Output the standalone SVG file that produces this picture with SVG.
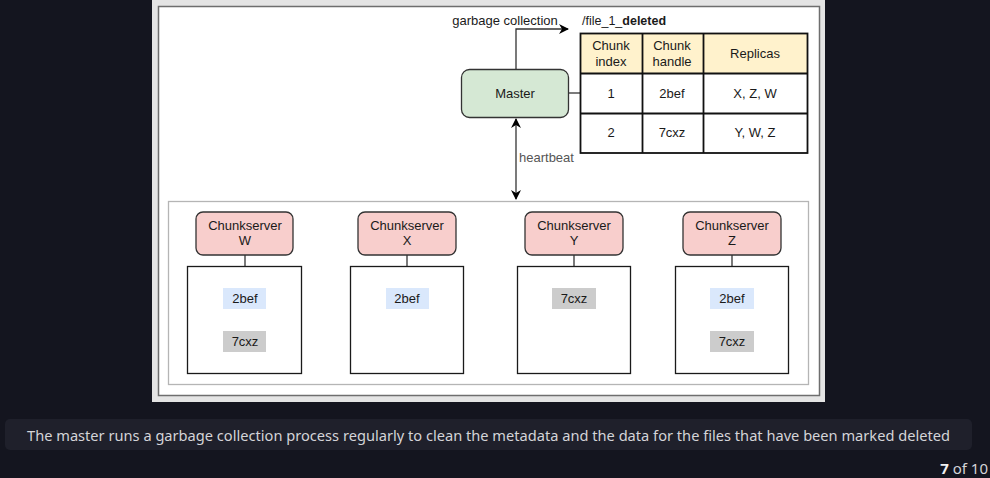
<svg xmlns="http://www.w3.org/2000/svg" width="990" height="478" viewBox="0 0 990 478">
<defs>
<style>
.t{font-family:"Liberation Sans",Arial,sans-serif;font-size:13px;fill:#1a1a1a;text-anchor:middle}
.cs{fill:#f8cecc;stroke:#333;stroke-width:1.3}
.st{fill:#fff;stroke:#1a1a1a;stroke-width:1.3}
.blue{fill:#dae8fc}
.gray{fill:#cccccc}
.ln{stroke:#333;stroke-width:1.3;fill:none}
.tb{fill:none;stroke:#111;stroke-width:1.8}
</style>
<marker id="ah" viewBox="0 0 10 10" refX="9" refY="5" markerWidth="10" markerHeight="10" markerUnits="userSpaceOnUse" orient="auto-start-reverse">
<path d="M0,0 L10,5 L0,10 L3,5 Z" fill="#000"/>
</marker>
</defs>
<rect width="990" height="478" fill="#14151f"/>
<rect x="152" y="0" width="673" height="402" fill="#e4e4e4"/>
<rect x="158.5" y="6.5" width="661" height="389" fill="#fff" stroke="#6e6e6e" stroke-width="1.5"/>

<g id="container"><rect x="168.5" y="201.5" width="640" height="183" fill="#fff" stroke="#b5b5b5" stroke-width="1.3"/></g>

<g id="connectors">
<path class="ln" d="M516 69 V29 H568" stroke="#000" marker-end="url(#ah)"/>
<line class="ln" x1="569" y1="93" x2="580" y2="93"/>
<line class="ln" x1="516" y1="119" x2="516" y2="199" stroke="#000" marker-start="url(#ah)" marker-end="url(#ah)"/>
<line class="ln" x1="245" y1="255" x2="245" y2="266"/>
<line class="ln" x1="407" y1="255" x2="407" y2="266"/>
<line class="ln" x1="574" y1="255" x2="574" y2="266"/>
<line class="ln" x1="732" y1="255" x2="732" y2="266"/>
<text class="t" x="505" y="25">garbage collection</text>
<text class="t" x="519" y="162" style="text-anchor:start;fill:#555">heartbeat</text>
</g>

<g id="master">
<rect x="461.5" y="69.5" width="107" height="48" rx="8" fill="#d5e8d4" stroke="#333" stroke-width="1.3"/>
<text class="t" x="515" y="97.5">Master</text>
</g>

<g id="table">
<text class="t" x="582" y="25" style="text-anchor:start;font-size:12.5px">/file_1_<tspan font-weight="bold">deleted</tspan></text>
<rect x="580.5" y="33.5" width="227" height="40" fill="#fff2cc"/>
<rect class="tb" x="580.5" y="33.5" width="227" height="119.5"/>
<line class="tb" x1="580.5" y1="73.5" x2="807.5" y2="73.5"/>
<line class="tb" x1="580.5" y1="113.5" x2="807.5" y2="113.5"/>
<line class="tb" x1="642.5" y1="33.5" x2="642.5" y2="153"/>
<line class="tb" x1="703.5" y1="33.5" x2="703.5" y2="153"/>
<text class="t" x="611" y="50">Chunk</text><text class="t" x="611" y="66">index</text>
<text class="t" x="672" y="50">Chunk</text><text class="t" x="672" y="66">handle</text>
<text class="t" x="755" y="58">Replicas</text>
<text class="t" x="611" y="98">1</text><text class="t" x="672" y="98">2bef</text><text class="t" x="755" y="98">X, Z, W</text>
<text class="t" x="611" y="137">2</text><text class="t" x="672" y="137">7cxz</text><text class="t" x="755" y="137">Y, W, Z</text>
</g>

<g id="chunkserver-w">
<rect class="cs" x="196" y="212" width="97" height="43" rx="7"/>
<text class="t" x="245" y="230">Chunkserver</text><text class="t" x="245" y="245">W</text>
<rect class="st" x="187.5" y="266.5" width="114" height="107"/>
<rect class="blue" x="223" y="288" width="43" height="21"/><text class="t" x="245" y="303">2bef</text>
<rect class="gray" x="223" y="331" width="43" height="21"/><text class="t" x="245" y="346">7cxz</text>
</g>

<g id="chunkserver-x">
<rect class="cs" x="358" y="212" width="98" height="43" rx="7"/>
<text class="t" x="407" y="230">Chunkserver</text><text class="t" x="407" y="245">X</text>
<rect class="st" x="350.5" y="266.5" width="113" height="107"/>
<rect class="blue" x="386" y="288" width="43" height="21"/><text class="t" x="407" y="303">2bef</text>
</g>

<g id="chunkserver-y">
<rect class="cs" x="525" y="212" width="98" height="43" rx="7"/>
<text class="t" x="574" y="230">Chunkserver</text><text class="t" x="574" y="245">Y</text>
<rect class="st" x="517.5" y="266.5" width="113" height="107"/>
<rect class="gray" x="552" y="288" width="44" height="21"/><text class="t" x="574" y="303">7cxz</text>
</g>

<g id="chunkserver-z">
<rect class="cs" x="683" y="212" width="98" height="43" rx="7"/>
<text class="t" x="732" y="230">Chunkserver</text><text class="t" x="732" y="245">Z</text>
<rect class="st" x="675.5" y="266.5" width="113" height="107"/>
<rect class="blue" x="710" y="288" width="44" height="21"/><text class="t" x="732" y="303">2bef</text>
<rect class="gray" x="710" y="331" width="44" height="21"/><text class="t" x="732" y="346">7cxz</text>
</g>

<g id="caption">
<rect x="5" y="419" width="967" height="31" rx="5" fill="#1f202b"/>
<text x="27" y="441" font-family="'Noto Sans',sans-serif" font-size="15" fill="#d4d4d8" textLength="923" lengthAdjust="spacingAndGlyphs">The master runs a garbage collection process regularly to clean the metadata and the data for the files that have been marked deleted</text>
<text x="988" y="474" font-family="'Noto Sans',sans-serif" font-size="15" fill="#d4d4d8" text-anchor="end"><tspan font-weight="bold" fill="#f0f0f0">7</tspan> of 10</text>
</g>
</svg>
